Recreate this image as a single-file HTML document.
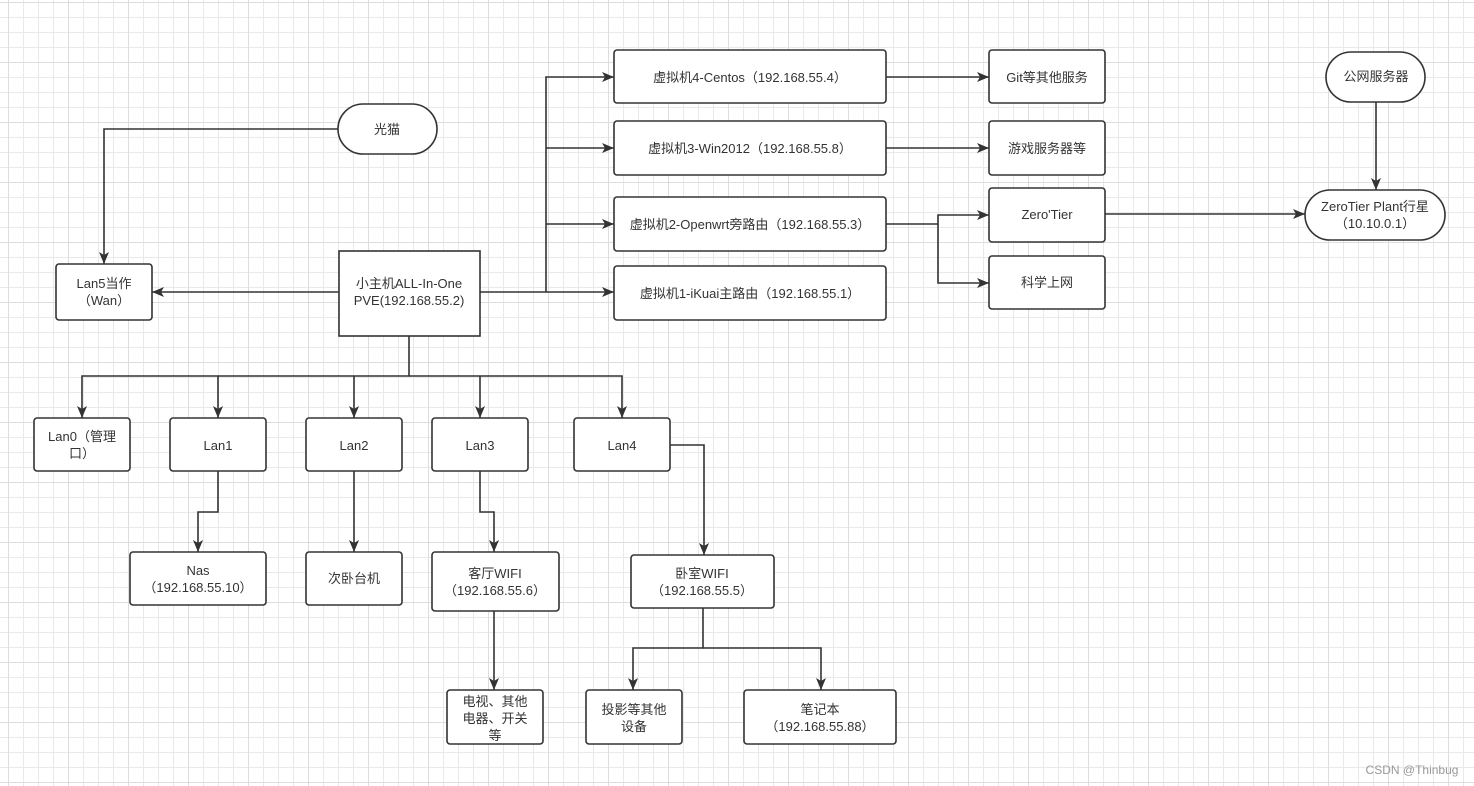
<!DOCTYPE html>
<html><head><meta charset="utf-8"><style>
html,body{margin:0;padding:0;background:#fff;}
svg{display:block;}
text{font-family:"Liberation Sans","Noto Sans CJK SC",sans-serif;font-size:13px;fill:#333;text-anchor:middle;}
</style></head><body>
<svg width="1474" height="786" viewBox="0 0 1474 786" xmlns="http://www.w3.org/2000/svg">
<defs>
<pattern id="g" x="8" y="2" width="15" height="15" patternUnits="userSpaceOnUse"><path d="M0.5 0V15M0 0.5H15" fill="none" stroke="#e9e9e9" stroke-width="1"/></pattern>
<pattern id="G" x="8" y="2" width="60" height="60" patternUnits="userSpaceOnUse"><path d="M0.5 0V60M0 0.5H60" fill="none" stroke="#dddddd" stroke-width="1"/></pattern>
<marker id="a" markerWidth="14" markerHeight="14" refX="12" refY="6" orient="auto" markerUnits="userSpaceOnUse"><path d="M0,1 L12,6 L0,11 L3,6 Z" fill="#333"/></marker>
</defs>
<rect width="1474" height="786" fill="url(#g)"/>
<rect width="1474" height="786" fill="url(#G)"/>
<g fill="none" stroke="#333" stroke-width="1.6">
<path d="M338 129H104V264" marker-end="url(#a)"/>
<path d="M339 292H152" marker-end="url(#a)"/>
<path d="M480 292H546V77H614" marker-end="url(#a)"/>
<path d="M546 148H614" marker-end="url(#a)"/>
<path d="M546 224H614" marker-end="url(#a)"/>
<path d="M546 292H614" marker-end="url(#a)"/>
<path d="M886 77H989" marker-end="url(#a)"/>
<path d="M886 148H989" marker-end="url(#a)"/>
<path d="M886 224H938V215H989" marker-end="url(#a)"/>
<path d="M938 224V283H989" marker-end="url(#a)"/>
<path d="M1105 214H1305" marker-end="url(#a)"/>
<path d="M1376 102V190" marker-end="url(#a)"/>
<path d="M409 336V376H82V418" marker-end="url(#a)"/>
<path d="M409 376H622V418" marker-end="url(#a)"/>
<path d="M218 376V418" marker-end="url(#a)"/>
<path d="M354 376V418" marker-end="url(#a)"/>
<path d="M480 376V418" marker-end="url(#a)"/>
<path d="M218 471V512H198V552" marker-end="url(#a)"/>
<path d="M354 471V552" marker-end="url(#a)"/>
<path d="M480 471V512H494V552" marker-end="url(#a)"/>
<path d="M670 445H704V555" marker-end="url(#a)"/>
<path d="M494 611V690" marker-end="url(#a)"/>
<path d="M703 608V648H633V690" marker-end="url(#a)"/>
<path d="M703 648H821V690" marker-end="url(#a)"/>
</g>
<g fill="#fff" stroke="#333" stroke-width="1.6">
<rect x="338" y="104" width="99" height="50" rx="25"/>
<rect x="56" y="264" width="96" height="56" rx="3"/>
<rect x="339" y="251" width="141" height="85"/>
<rect x="614" y="50" width="272" height="53" rx="3"/>
<rect x="614" y="121" width="272" height="54" rx="3"/>
<rect x="614" y="197" width="272" height="54" rx="3"/>
<rect x="614" y="266" width="272" height="54" rx="3"/>
<rect x="989" y="50" width="116" height="53" rx="3"/>
<rect x="989" y="121" width="116" height="54" rx="3"/>
<rect x="989" y="188" width="116" height="54" rx="3"/>
<rect x="989" y="256" width="116" height="53" rx="3"/>
<rect x="1326" y="52" width="99" height="50" rx="25"/>
<rect x="1305" y="190" width="140" height="50" rx="25"/>
<rect x="34" y="418" width="96" height="53" rx="3"/>
<rect x="170" y="418" width="96" height="53" rx="3"/>
<rect x="306" y="418" width="96" height="53" rx="3"/>
<rect x="432" y="418" width="96" height="53" rx="3"/>
<rect x="574" y="418" width="96" height="53" rx="3"/>
<rect x="130" y="552" width="136" height="53" rx="3"/>
<rect x="306" y="552" width="96" height="53" rx="3"/>
<rect x="432" y="552" width="127" height="59" rx="3"/>
<rect x="631" y="555" width="143" height="53" rx="3"/>
<rect x="447" y="690" width="96" height="54" rx="3"/>
<rect x="586" y="690" width="96" height="54" rx="3"/>
<rect x="744" y="690" width="152" height="54" rx="3"/>
</g>
<text x="387" y="134">光猫</text>
<text x="104" y="288">Lan5当作</text>
<text x="104" y="305">（Wan）</text>
<text x="409" y="288">小主机ALL-In-One</text>
<text x="409" y="305">PVE(192.168.55.2)</text>
<text x="750" y="82">虚拟机4-Centos（192.168.55.4）</text>
<text x="750" y="153">虚拟机3-Win2012（192.168.55.8）</text>
<text x="750" y="229">虚拟机2-Openwrt旁路由（192.168.55.3）</text>
<text x="750" y="298">虚拟机1-iKuai主路由（192.168.55.1）</text>
<text x="1047" y="82">Git等其他服务</text>
<text x="1047" y="153">游戏服务器等</text>
<text x="1047" y="219">Zero'Tier</text>
<text x="1047" y="287">科学上网</text>
<text x="1376" y="81">公网服务器</text>
<text x="1375" y="211">ZeroTier Plant行星</text>
<text x="1375" y="228">（10.10.0.1）</text>
<text x="82" y="441">Lan0（管理</text>
<text x="82" y="458">口）</text>
<text x="218" y="450">Lan1</text>
<text x="354" y="450">Lan2</text>
<text x="480" y="450">Lan3</text>
<text x="622" y="450">Lan4</text>
<text x="198" y="575">Nas</text>
<text x="198" y="592">（192.168.55.10）</text>
<text x="354" y="583">次卧台机</text>
<text x="495" y="578">客厅WIFI</text>
<text x="495" y="595">（192.168.55.6）</text>
<text x="702" y="578">卧室WIFI</text>
<text x="702" y="595">（192.168.55.5）</text>
<text x="495" y="706">电视、其他</text>
<text x="495" y="723">电器、开关</text>
<text x="495" y="740">等</text>
<text x="634" y="714">投影等其他</text>
<text x="634" y="731">设备</text>
<text x="820" y="714">笔记本</text>
<text x="820" y="731">（192.168.55.88）</text>
<text x="1412" y="774" style="font-size:12px;fill:#999">CSDN @Thinbug</text>
</svg>
</body></html>
